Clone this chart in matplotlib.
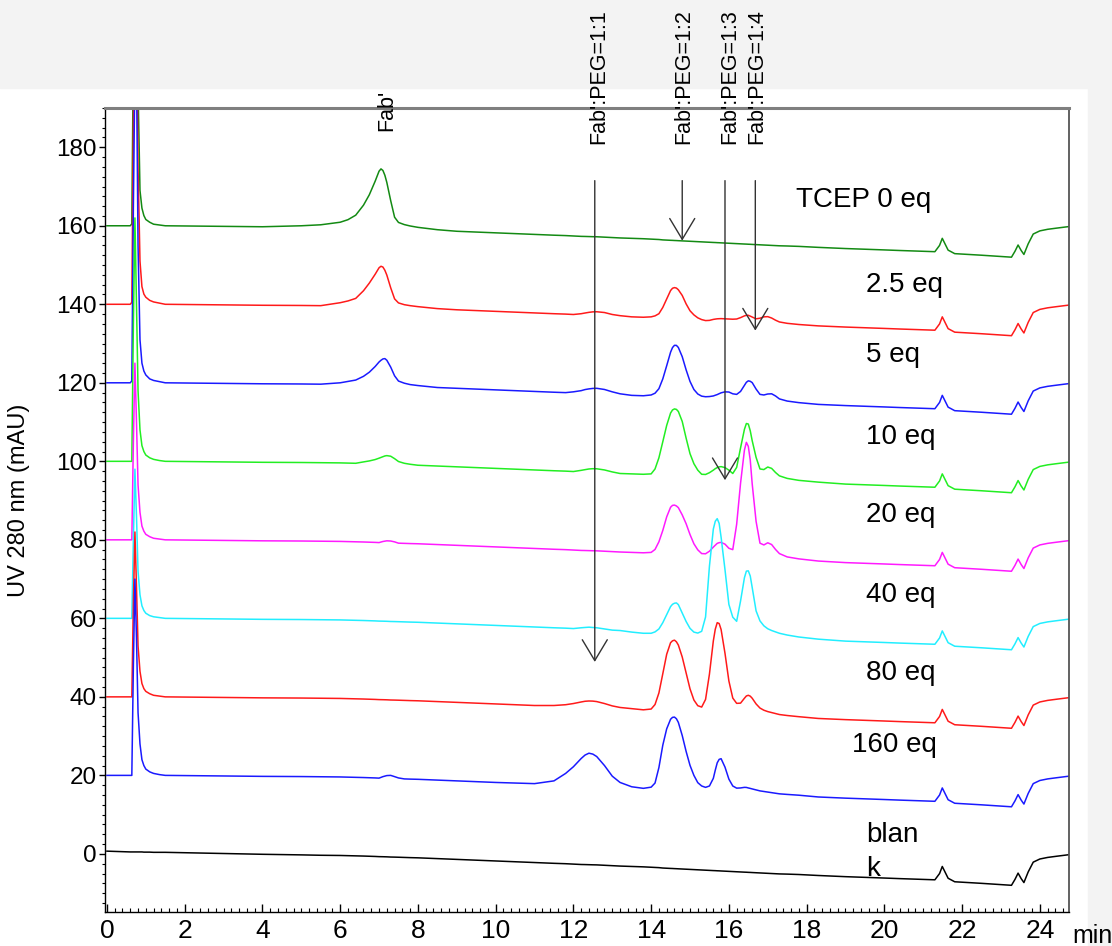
import matplotlib
matplotlib.use("Agg")
import matplotlib.pyplot as plt
from matplotlib.ticker import MultipleLocator
from matplotlib.patches import Rectangle

plt.rcParams['font.family'] = ['Liberation Sans', 'DejaVu Sans']

# baseline drift shared by all runs (retention time min: mAU relative to the run offset)
drift = {0.0: 0, 0.3: 0, 0.6: 0, 0.64: 0, 0.68: 0, 0.72: 0, 0.76: 0, 0.8: 0, 0.85: 0,
         0.9: 0, 0.95: 0, 1.0: 0, 1.1: 0, 1.2: 0, 1.35: 0, 1.5: 0, 2.0: -0.05,
         3.0: -0.15, 4.0: -0.25, 5.0: -0.3, 5.5: -0.35, 6.0: -0.4, 6.2: -0.45,
         6.4: -0.5, 6.6: -0.55, 6.75: -0.6, 6.9: -0.65, 7.0: -0.7, 7.05: -0.71,
         7.1: -0.72, 7.15: -0.735, 7.2: -0.75, 7.3: -0.8, 7.4: -0.82, 7.5: -0.85,
         7.65: -0.9, 7.8: -0.95, 8.0: -1.0, 8.5: -1.2, 9.0: -1.4, 10.0: -1.8,
         11.0: -2.2, 11.5: -2.4, 11.8: -2.5, 12.0: -2.6, 12.2: -2.7, 12.3: -2.72,
         12.4: -2.75, 12.5: -2.78, 12.6: -2.8, 12.8: -2.9, 13.0: -3.0, 13.2: -3.1,
         13.5: -3.2, 13.8: -3.3, 14.0: -3.4, 14.1: -3.45, 14.2: -3.5, 14.3: -3.6,
         14.4: -3.65, 14.5: -3.7, 14.55: -3.72, 14.6: -3.75, 14.65: -3.77, 14.7: -3.8,
         14.8: -3.85, 14.9: -3.9, 15.0: -3.95, 15.1: -4.0, 15.2: -4.05, 15.3: -4.1,
         15.4: -4.15, 15.5: -4.2, 15.6: -4.25, 15.65: -4.27, 15.7: -4.3, 15.75: -4.32,
         15.8: -4.35, 15.9: -4.4, 16.0: -4.45, 16.1: -4.5, 16.2: -4.55, 16.3: -4.6,
         16.4: -4.65, 16.45: -4.67, 16.5: -4.7, 16.55: -4.72, 16.6: -4.75, 16.7: -4.8,
         16.8: -4.85, 16.9: -4.9, 17.0: -4.95, 17.1: -5.0, 17.2: -5.05, 17.3: -5.1,
         17.5: -5.15, 17.8: -5.25, 18.3: -5.5, 19.0: -5.8, 20.0: -6.15, 20.4: -6.3,
         21.3: -6.6, 21.42: -5.0, 21.49: -3.2, 21.56: -4.6, 21.64: -6.2, 21.81: -7.1,
         22.5: -7.5, 23.27: -8.0, 23.36: -6.5, 23.44: -4.9, 23.52: -6.3, 23.59: -7.3,
         23.7: -4.6, 23.83: -2.1, 24.0: -1.3, 24.2: -0.9, 24.43: -0.6, 24.75: -0.2}

# peaks of each run above the drifting baseline (time: mAU)
sig_0eq = {0.64: 0.5, 0.68: 45, 0.72: 80, 0.76: 80, 0.8: 35, 0.85: 9, 0.9: 4.5,
           0.95: 2.6, 1.0: 1.6, 1.1: 0.9, 1.2: 0.4, 1.35: 0.2,
           5.0: 0.3, 5.5: 0.6, 6.0: 1.3, 6.2: 2.0, 6.4: 3.2, 6.6: 5.8, 6.75: 8.5,
           6.9: 12.0, 7.0: 14.6, 7.05: 15.2, 7.1: 14.8, 7.15: 13.6, 7.2: 11.8,
           7.3: 7.2, 7.4: 3.0, 7.5: 1.7, 7.65: 1.2, 7.8: 0.9, 8.0: 0.6, 8.5: 0.2}

sig_2p5eq = {0.64: 0.5, 0.68: 45, 0.72: 80, 0.76: 80, 0.8: 35, 0.85: 11, 0.9: 4.5,
             0.95: 2.6, 1.0: 1.8, 1.1: 1.0, 1.2: 0.6, 1.35: 0.3,
             6.0: 0.8, 6.2: 1.3, 6.4: 2.0, 6.6: 4.0, 6.75: 6.0, 6.9: 8.3, 7.0: 10.0,
             7.05: 10.4, 7.1: 10.2, 7.15: 9.4, 7.2: 8.2, 7.3: 5.0, 7.4: 2.2, 7.5: 1.2,
             7.65: 0.8, 7.8: 0.6, 8.0: 0.4, 8.5: 0.1,
             12.2: 0.3, 12.3: 0.5, 12.4: 0.7, 12.5: 0.85, 12.6: 0.9, 12.8: 0.8,
             13.0: 0.4, 13.2: 0.2,
             14.0: 0.2, 14.1: 0.5, 14.2: 1.1, 14.3: 2.8, 14.4: 5.0, 14.5: 7.2,
             14.55: 7.8, 14.6: 8.0, 14.65: 7.9, 14.7: 7.5, 14.8: 6.1, 14.9: 4.0,
             15.0: 2.3, 15.1: 1.3, 15.2: 0.6, 15.3: 0.2, 15.5: 0.1, 15.6: 0.4,
             15.65: 0.5, 15.7: 0.6, 15.75: 0.65, 15.8: 0.7, 15.9: 0.7, 16.0: 0.7,
             16.1: 0.7, 16.2: 0.8, 16.3: 1.2, 16.4: 1.7, 16.45: 1.85, 16.5: 1.9,
             16.55: 1.7, 16.6: 1.5, 16.7: 1.1, 16.8: 1.3, 16.9: 1.7, 17.0: 1.8,
             17.1: 1.5, 17.2: 1.0, 17.3: 0.6, 17.5: 0.3, 17.8: 0.1}

sig_5eq = {0.64: 0.5, 0.68: 45, 0.72: 80, 0.76: 80, 0.8: 35, 0.85: 11, 0.9: 5,
           0.95: 3, 1.0: 2, 1.1: 1, 1.2: 0.6, 1.35: 0.3,
           6.0: 0.4, 6.2: 0.8, 6.4: 1.2, 6.6: 2.2, 6.75: 3.3, 6.9: 4.8, 7.0: 6.0,
           7.05: 6.45, 7.1: 6.8, 7.15: 6.9, 7.2: 6.5, 7.3: 4.8, 7.4: 2.6, 7.5: 1.3,
           7.65: 0.8, 7.8: 0.5, 8.0: 0.3,
           12.0: 0.3, 12.2: 0.7, 12.3: 1.0, 12.4: 1.2, 12.5: 1.35, 12.6: 1.4,
           12.8: 1.2, 13.0: 0.7, 13.2: 0.3,
           14.0: 0.3, 14.1: 0.8, 14.2: 2.0, 14.3: 4.6, 14.4: 8.0, 14.5: 11.5,
           14.55: 12.7, 14.6: 13.3, 14.65: 13.3, 14.7: 12.8, 14.8: 10.5, 14.9: 7.2,
           15.0: 4.3, 15.1: 2.3, 15.2: 1.2, 15.3: 0.7, 15.4: 0.6, 15.5: 0.7,
           15.6: 0.9, 15.65: 1.1, 15.7: 1.3, 15.75: 1.55, 15.8: 1.8, 15.9: 2.1,
           16.0: 2.1, 16.1: 1.7, 16.2: 1.6, 16.3: 2.4, 16.4: 4.0, 16.45: 4.8,
           16.5: 5.2, 16.55: 5.1, 16.6: 4.8, 16.7: 3.2, 16.8: 1.9, 16.9: 1.8,
           17.0: 2.1, 17.1: 2.2, 17.2: 1.7, 17.3: 1.0, 17.5: 0.5, 17.8: 0.2}

sig_10eq = {0.68: 35, 0.72: 62, 0.76: 40, 0.8: 18, 0.85: 8, 0.9: 4,
            0.95: 2.5, 1.0: 1.6, 1.1: 0.9, 1.2: 0.5, 1.35: 0.2,
            6.6: 0.4, 6.75: 0.7, 6.9: 1.1, 7.0: 1.5, 7.05: 1.7, 7.1: 1.9, 7.15: 2.1,
            7.2: 2.2, 7.3: 2.1, 7.4: 1.5, 7.5: 0.8, 7.65: 0.4, 7.8: 0.2,
            12.2: 0.4, 12.3: 0.6, 12.4: 0.8, 12.5: 0.9, 12.6: 0.9, 12.8: 0.7, 13.0: 0.3,
            14.0: 0.2, 14.1: 1.5, 14.2: 4.4, 14.3: 8.6, 14.4: 12.8, 14.5: 16.0,
            14.55: 16.8, 14.6: 17.1, 14.65: 17.0, 14.7: 16.5, 14.8: 14.0, 14.9: 9.8,
            15.0: 5.9, 15.1: 3.4, 15.2: 1.8, 15.3: 0.8, 15.4: 0.8, 15.5: 1.3,
            15.6: 2.0, 15.65: 2.4, 15.7: 2.7, 15.75: 2.9, 15.8: 3.0, 15.9: 2.8,
            16.0: 2.2, 16.1: 1.4, 16.2: 3.0, 16.3: 8.0, 16.4: 12.8, 16.45: 14.3,
            16.5: 14.2, 16.55: 12.5, 16.6: 10.0, 16.7: 5.8, 16.8: 2.9, 16.9: 2.8,
            17.0: 3.5, 17.1: 3.2, 17.2: 2.2, 17.3: 1.4, 17.5: 0.8, 17.8: 0.4, 18.3: 0.2}

sig_20eq = {0.68: 25, 0.72: 45, 0.76: 30, 0.8: 14, 0.85: 7, 0.9: 3.5,
            0.95: 2.2, 1.0: 1.4, 1.1: 0.8, 1.2: 0.4, 1.35: 0.2,
            7.05: 0.15, 7.1: 0.3, 7.15: 0.4, 7.2: 0.5, 7.3: 0.5, 7.4: 0.3,
            14.0: 0.2, 14.1: 1.0, 14.2: 3.0, 14.3: 6.0, 14.4: 9.5, 14.5: 12.0,
            14.55: 12.5, 14.6: 12.6, 14.65: 12.4, 14.7: 12.0, 14.8: 10.2, 14.9: 8.0,
            15.0: 5.3, 15.1: 3.0, 15.2: 1.5, 15.3: 0.6, 15.4: 0.6, 15.5: 1.3,
            15.6: 2.4, 15.65: 2.9, 15.7: 3.4, 15.75: 3.6, 15.8: 3.7, 15.9: 3.3,
            16.0: 2.3, 16.1: 2.0, 16.2: 8.5, 16.3: 19.0, 16.4: 27.5, 16.45: 29.5,
            16.5: 28.5, 16.55: 25.0, 16.6: 19.0, 16.7: 9.5, 16.8: 4.0, 16.9: 3.6,
            17.0: 4.2, 17.1: 3.8, 17.2: 2.6, 17.3: 1.6, 17.5: 0.8, 17.8: 0.4, 18.3: 0.1}

sig_40eq = {0.68: 20, 0.72: 38, 0.76: 26, 0.8: 12, 0.85: 6, 0.9: 3.2,
            0.95: 2.0, 1.0: 1.3, 1.1: 0.7, 1.2: 0.4, 1.35: 0.2,
            12.2: 0.3, 12.3: 0.4, 12.4: 0.5, 12.5: 0.45, 12.6: 0.4, 12.8: 0.2,
            13.5: -0.3, 13.8: -0.5, 14.0: -0.4, 14.2: 0.8, 14.3: 2.5, 14.4: 4.6,
            14.5: 6.7, 14.55: 7.3, 14.6: 7.6, 14.65: 7.7, 14.7: 7.3, 14.8: 5.2,
            14.9: 3.1, 15.0: 1.4, 15.1: 0.5, 15.2: 0.3, 15.3: 0.8, 15.4: 4.5,
            15.5: 17.5, 15.6: 27.0, 15.65: 29.0, 15.7: 29.7, 15.75: 28.5, 15.8: 25.0,
            15.9: 16.8, 16.0: 8.0, 16.1: 4.8, 16.2: 3.8, 16.3: 9.0, 16.4: 15.0,
            16.45: 16.7, 16.5: 16.8, 16.55: 15.5, 16.6: 12.6, 16.7: 6.7, 16.8: 4.2,
            16.9: 3.0, 17.0: 2.3, 17.1: 1.9, 17.2: 1.6, 17.3: 1.3, 17.5: 0.9,
            17.8: 0.5, 18.3: 0.2}

sig_80eq = {0.68: 24, 0.72: 42, 0.76: 28, 0.8: 13, 0.85: 6.5, 0.9: 3.4,
            0.95: 2.1, 1.0: 1.4, 1.1: 0.8, 1.2: 0.4, 1.35: 0.2,
            11.5: 0.2, 11.8: 0.5, 12.0: 0.9, 12.2: 1.4, 12.3: 1.6, 12.4: 1.7,
            12.5: 1.7, 12.6: 1.6, 12.8: 1.2, 13.0: 0.7, 13.2: 0.4, 13.5: 0.2,
            14.0: 0.3, 14.1: 1.5, 14.2: 4.5, 14.3: 9.5, 14.4: 14.5, 14.5: 17.5,
            14.55: 18.0, 14.6: 18.2, 14.65: 17.8, 14.7: 17.0, 14.8: 14.0, 14.9: 10.0,
            15.0: 6.0, 15.1: 3.2, 15.2: 1.8, 15.3: 1.5, 15.4: 3.5, 15.5: 10.0,
            15.6: 18.5, 15.65: 21.5, 15.7: 23.2, 15.75: 23.0, 15.8: 21.5, 15.9: 15.5,
            16.0: 8.5, 16.1: 4.2, 16.2: 2.9, 16.3: 3.0, 16.4: 4.3, 16.45: 4.9,
            16.5: 5.1, 16.55: 4.9, 16.6: 4.4, 16.7: 3.0, 16.8: 2.0, 16.9: 1.5,
            17.0: 1.2, 17.1: 1.0, 17.2: 0.8, 17.3: 0.6, 17.5: 0.4, 17.8: 0.2}

sig_160eq = {0.68: 28, 0.72: 50, 0.76: 35, 0.8: 16, 0.85: 8, 0.9: 4,
             0.95: 2.5, 1.0: 1.6, 1.1: 0.9, 1.2: 0.5, 1.35: 0.2,
             7.05: 0.2, 7.1: 0.4, 7.15: 0.55, 7.2: 0.7, 7.3: 0.8, 7.4: 0.5, 7.5: 0.2,
             11.0: 0.1, 11.5: 1.0, 11.8: 3.0, 12.0: 4.8, 12.2: 7.0, 12.3: 7.9,
             12.4: 8.4, 12.5: 8.2, 12.6: 7.6, 12.8: 5.4, 13.0: 2.8, 13.2: 1.3, 13.5: 0.3,
             14.0: 0.4, 14.1: 1.5, 14.2: 5.5, 14.3: 11.3, 14.4: 15.5, 14.5: 18.0,
             14.55: 18.5, 14.6: 18.6, 14.65: 18.2, 14.7: 17.3, 14.8: 14.0, 14.9: 10.0,
             15.0: 6.5, 15.1: 4.0, 15.2: 2.2, 15.3: 1.4, 15.4: 1.1, 15.5: 1.5,
             15.6: 3.5, 15.65: 5.6, 15.7: 7.5, 15.75: 8.4, 15.8: 8.6, 15.9: 6.5,
             16.0: 3.5, 16.1: 1.8, 16.2: 1.3, 16.3: 1.4, 16.4: 1.6, 16.45: 1.6,
             16.5: 1.5, 16.55: 1.4, 16.6: 1.3, 16.7: 1.1, 16.8: 0.9, 16.9: 0.8,
             17.0: 0.7, 17.1: 0.6, 17.2: 0.5, 17.3: 0.4, 17.5: 0.3, 17.8: 0.2}

sig_blank = {0.0: 0.7, 0.3: 0.6, 0.6: 0.5, 0.64: 0.5, 0.68: 0.5, 0.72: 0.5,
             0.76: 0.5, 0.8: 0.5, 0.85: 0.5, 0.9: 0.5, 0.95: 0.45, 1.0: 0.45,
             1.1: 0.45, 1.2: 0.4, 1.35: 0.4, 1.5: 0.4, 2.0: 0.35, 3.0: 0.25,
             4.0: 0.15, 5.0: 0.05}

runs = [sig_0eq, sig_2p5eq, sig_5eq, sig_10eq, sig_20eq, sig_40eq, sig_80eq, sig_160eq, sig_blank]
offsets = [160, 140, 120, 100, 80, 60, 40, 20, 0]
run_labels = ['TCEP 0 eq', '2.5 eq', '5 eq', '10 eq', '20 eq', '40 eq', '80 eq', '160 eq', 'blan\nk']
colors = ['#138a13', '#ff1a1a', '#1a1aff', '#22ee22', '#ff1aff', '#22eeff', '#ff1a1a', '#1a1aff', '#000000']

label_x = [17.72, 19.52, 19.52, 19.52, 19.52, 19.52, 19.52, 19.16, 19.52]
label_y = [166.5, 144.8, 127.0, 106.1, 86.3, 65.9, 46.1, 27.7, 0.4]

peak_names = ["Fab'", "Fab':PEG=1:1", "Fab':PEG=1:2", "Fab':PEG=1:3", "Fab':PEG=1:4"]
peak_text_x = [7.2, 12.64, 14.83, 16.02, 16.71]
peak_text_y = [184.2, 180.9, 180.9, 180.9, 180.9]
arrow_x = [12.55, 14.8, 15.9, 16.68]
arrow_tip = [48.9, 156.2, 95.2, 133.3]
arrow_top = 171.5

t_min = sorted(drift)

fig = plt.figure(figsize=(11.12, 9.46), dpi=100)
# light textured background bands of the original slide
fig.patches.append(Rectangle((0, 1 - 88 / 946), 1, 88 / 946, transform=fig.transFigure,
                             color='#f3f3f3', zorder=-5))
fig.patches.append(Rectangle((1088 / 1112, 0), 1 - 1088 / 1112, 1, transform=fig.transFigure,
                             color='#f3f3f3', zorder=-5))

ax = fig.add_axes([105 / 1112, 1 - 912 / 946, 964 / 1112, 804 / 946])
ax.patch.set_facecolor('white')

for sig, off, c in zip(runs, offsets, colors):
    vals = [off + drift[t] + sig.get(t, 0.0) for t in t_min]
    ax.plot(t_min, vals, color=c, lw=1.1)

for name, x, y in zip(run_labels, label_x, label_y):
    ax.text(x, y, name, fontsize=20, ha='left', va='center', linespacing=1.4)

for name, x, y in zip(peak_names, peak_text_x, peak_text_y):
    ax.text(x, y, name, fontsize=15.5, rotation=90, ha='center', va='bottom', clip_on=False)

for x, tip in zip(arrow_x, arrow_tip):
    ax.annotate('', xy=(x, tip), xytext=(x, arrow_top),
                arrowprops=dict(arrowstyle='->, head_length=0.75, head_width=0.45',
                                color='#333333', lw=1.0, shrinkA=0, shrinkB=0,
                                mutation_scale=20))

ax.set_xlim(-0.05, 24.75)
ax.set_ylim(-14.8, 190)
ax.xaxis.set_major_locator(MultipleLocator(2))
ax.xaxis.set_minor_locator(MultipleLocator(0.2))
ax.yaxis.set_major_locator(MultipleLocator(20))
ax.yaxis.set_minor_locator(MultipleLocator(2.5))
ax.tick_params(axis='x', which='major', direction='in', length=6, width=1, labelsize=19, pad=5)
ax.tick_params(axis='x', which='minor', direction='in', length=3, width=0.8)
ax.tick_params(axis='y', which='major', direction='out', length=4, width=1, labelsize=17.5, pad=2)
ax.tick_params(axis='y', which='minor', direction='out', length=2.5, width=0.8)

ax.spines['top'].set_color('#7f7f7f')
ax.spines['top'].set_linewidth(2.2)
ax.spines['right'].set_color('#555555')
ax.spines['right'].set_linewidth(1.3)
ax.spines['left'].set_linewidth(1.0)
ax.spines['bottom'].set_linewidth(1.0)

ax.set_ylabel('UV 280 nm (mAU)', fontsize=17)
ax.yaxis.set_label_coords(-0.078, 0.512)
fig.text(1092 / 1112, 1 - 936 / 946, 'min', fontsize=18, ha='center', va='center')

fig.savefig('out.png', dpi=100)
